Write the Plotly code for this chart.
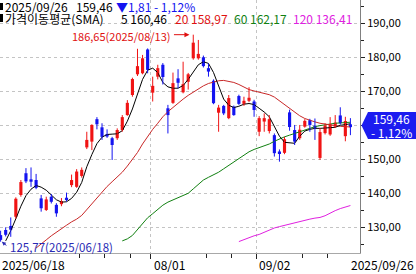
import plotly.graph_objects as go

# ---------------- data ----------------
dates = [
    "2025/06/18", "2025/06/20", "2025/06/23", "2025/06/24", "2025/06/25", "2025/06/26", "2025/06/27", "2025/06/30",
    "2025/07/01", "2025/07/02", "2025/07/03", "2025/07/07", "2025/07/08", "2025/07/09", "2025/07/10", "2025/07/11",
    "2025/07/14", "2025/07/15", "2025/07/16", "2025/07/17", "2025/07/18", "2025/07/21", "2025/07/22", "2025/07/23",
    "2025/07/24", "2025/07/25", "2025/07/28", "2025/07/29", "2025/07/30", "2025/07/31",
    "2025/08/01", "2025/08/04", "2025/08/05", "2025/08/06", "2025/08/07", "2025/08/08", "2025/08/11", "2025/08/12",
    "2025/08/13", "2025/08/14", "2025/08/15", "2025/08/18", "2025/08/19", "2025/08/20", "2025/08/21", "2025/08/22",
    "2025/08/25", "2025/08/26", "2025/08/27", "2025/08/28", "2025/08/29",
    "2025/09/02", "2025/09/03", "2025/09/04", "2025/09/05", "2025/09/08", "2025/09/09", "2025/09/10", "2025/09/11",
    "2025/09/12", "2025/09/15", "2025/09/16", "2025/09/17", "2025/09/18", "2025/09/19", "2025/09/22", "2025/09/23",
    "2025/09/24", "2025/09/25", "2025/09/26",
]

opens = [127.7, 129.2, 130.4, 133.1, 139.5, 145.9, 144.1, 143.9, 138.5, 135.1,
         139.0, 136.6, 136.8, 138.7, 142.4, 141.9, 145.1, 153.5, 155.2, 161.8,
         159.4, 157.4, 156.2, 156.2, 158.6, 163.0, 168.9, 175.0, 175.3, 182.3,
         169.6, 174.3, 177.8, 165.0, 166.6, 173.8, 169.7, 172.8, 179.7, 179.7,
         180.0, 176.8, 173.1, 163.7, 165.7, 162.1, 165.5, 168.6, 166.3, 167.2,
         167.0, 158.1, 161.1, 158.3, 157.1, 152.3, 151.9, 163.8, 158.6, 156.2,
         159.6, 161.5, 159.9, 150.4, 157.7, 157.3, 159.6, 162.9, 156.8, 160.3]
highs = [129.0, 130.0, 132.9, 138.8, 143.9, 147.4, 147.6, 145.7, 139.5, 139.0,
         139.8, 137.1, 138.6, 140.2, 145.5, 147.1, 147.6, 158.1, 160.3, 162.4,
         160.6, 158.8, 156.6, 159.1, 163.0, 167.4, 174.0, 182.5, 180.7, 182.6,
         174.3, 177.8, 178.3, 166.0, 175.5, 176.5, 178.7, 175.4, 186.65, 185.1,
         180.5, 178.2, 173.5, 166.0, 166.0, 168.9, 165.8, 169.0, 168.4, 171.2,
         167.5, 162.7, 163.5, 163.0, 157.6, 152.9, 156.6, 164.6, 160.1, 160.1,
         161.8, 161.9, 162.0, 159.2, 160.6, 162.4, 163.0, 165.3, 162.5, 162.1]
lows = [125.77, 127.3, 127.2, 132.5, 139.0, 143.0, 141.9, 141.2, 134.6, 134.8,
        137.0, 133.1, 136.2, 137.6, 141.8, 141.6, 144.6, 153.0, 152.7, 158.8,
        155.7, 156.3, 149.8, 155.7, 158.1, 162.8, 168.4, 174.5, 175.0, 175.3,
        167.0, 173.5, 172.0, 157.6, 166.3, 170.9, 169.4, 170.5, 179.3, 179.3,
        177.0, 174.3, 166.2, 158.1, 163.0, 161.8, 162.8, 166.0, 165.7, 166.8,
        162.5, 156.8, 158.1, 157.6, 150.8, 149.3, 151.5, 158.4, 154.2, 155.7,
        159.3, 158.1, 155.7, 149.8, 157.3, 156.9, 159.2, 160.2, 155.3, 157.1]
closes = [126.3, 127.8, 129.3, 138.4, 143.3, 143.5, 143.4, 141.6, 135.6, 138.2,
          137.5, 134.1, 137.7, 138.0, 143.9, 146.4, 146.9, 155.7, 160.1, 160.3,
          156.6, 156.7, 154.2, 158.6, 162.4, 166.6, 173.6, 177.4, 179.7, 176.3,
          171.6, 176.8, 174.2, 163.0, 172.4, 172.5, 172.1, 175.0, 184.3, 181.0,
          177.4, 175.8, 166.5, 165.2, 163.5, 168.0, 163.0, 166.3, 167.2, 168.1,
          164.5, 162.1, 162.1, 161.8, 151.8, 151.8, 155.9, 159.5, 155.2, 158.7,
          161.3, 160.1, 159.2, 158.0, 159.9, 160.3, 160.8, 160.6, 161.27, 159.46]

N = None
ma5 = [N, 126.0, 129.0, 132.5, 136.2, 139.3, 141.2, 142.3, 141.8, 140.9,
       139.6, 138.1, 137.4, 137.5, 138.5, 140.3, 143.2, 147.8, 151.4, 154.6,
       156.5, 157.3, 157.4, 157.5, 158.4, 161.2, 164.8, 168.9, 173.5, 176.2,
       176.8, 175.5, 172.6, 171.3, 170.9, 170.9, 171.7, 173.5, 175.7, 177.8,
       178.7, 178.2, 175.5, 171.4, 167.7, 165.9, 165.2, 165.6, 166.2, 166.4,
       166.1, 165.0, 163.9, 162.5, 159.8, 156.8, 155.0, 154.8, 154.7, 156.8,
       158.3, 158.8, 159.1, 159.1, 159.1, 159.3, 159.4, 160.0, 160.2, 160.46]
ma20 = [N, N, N, N, N, N, N, 123.9, 125.0, 126.3,
        127.5, 128.6, 129.6, 130.6, 131.6, 132.4, 133.5, 135.2, 137.0, 138.8,
        140.5, 142.0, 143.4, 144.8, 146.2, 148.0, 150.0, 152.0, 154.5, 156.8,
        158.8, 160.6, 162.5, 164.0, 165.3, 166.5, 167.7, 168.8, 169.8, 170.8,
        171.6, 172.3, 172.8, 173.1, 173.2, 173.0, 172.6, 172.0, 171.2, 170.5,
        170.1, 169.8, 169.5, 169.0, 168.3, 167.2, 166.0, 164.9, 163.7, 162.8,
        162.0, 161.4, 161.0, 160.6, 160.3, 160.1, 159.9, 159.7, 159.6, 159.5]
ma60 = [N] * 24 + [
        126.0, 126.6, 127.6, 129.3, 131.3, 132.8,
        134.0, 135.3, 136.5, 137.4, 138.1, 138.7, 139.3, 140.0, 141.3, 142.6,
        143.9, 144.7, 145.4, 146.2, 147.2, 148.2, 149.2, 150.4, 151.4, 152.2,
        152.9, 153.4, 153.8, 154.5, 155.3, 156.0, 156.6, 157.1, 157.6, 158.1,
        158.6, 159.2, 159.6, 159.9, 160.2, 160.5, 160.6, 160.7, 160.8, 160.9]
ma120 = [N] * 47 + [
        125.8, 126.4, 127.0,
        127.5, 127.9, 128.6, 129.3, 129.8, 130.2, 130.6, 131.0, 131.3, 131.7,
        132.0, 132.4, 132.7, 132.9, 133.4, 134.2, 134.9, 135.5, 135.9, 136.4]

y_ticks = [130, 140, 150, 160, 170, 180, 190]
y_minor = [125, 135, 145, 155, 165, 175, 185, 195]
month_starts = ["2025/08/01", "2025/09/02"]
week_starts = ["2025/07/14", "2025/07/21", "2025/07/28", "2025/08/18", "2025/08/25", "2025/09/15", "2025/09/22"]

header1 = ["2025/09/26", "159,46", "▼1,81", "- 1,12%"]
header2 = ["가격이동평균(SMA)", "5 160,46", "20 158,97", "60 162,17", "120 136,41"]
last_label = ["159,46", "- 1,12%"]
max_label = "186,65(2025/08/13)"
min_label = "125,77(2025/06/18)"

# ---------------- styles ----------------
RED = "#f01414"
BLUE = "#1414f0"
FONT = "Noto Sans CJK KR"
PW, PH = 360.0, 253.0  # plot area in px

def px_x(px):
    return px / PW

def px_y(py):
    return 1 - py / PH

idx = list(range(len(dates)))
pos = {d: i for i, d in enumerate(dates)}

fig = go.Figure()

# MA lines
for vals, col in [(ma120, "#e020e0"), (ma60, "#118011"), (ma20, "#c82828"), (ma5, "#000000")]:
    fig.add_trace(go.Scatter(x=idx, y=vals, mode="lines", line=dict(color=col, width=1),
                             connectgaps=False, hoverinfo="skip"))

# candle bodies
bases, heights, colors = [], [], []
for o, c in zip(opens, closes):
    bases.append(min(o, c))
    heights.append(max(abs(c - o), 0.25))
    colors.append(RED if c >= o else BLUE)
fig.add_trace(go.Bar(x=idx, y=heights, base=bases, width=0.62,
                     marker=dict(color=colors, line=dict(width=0)), hoverinfo="skip"))

# wicks
for up, col in [(True, RED), (False, BLUE)]:
    wx, wy = [], []
    for i, (o, h, l, c) in enumerate(zip(opens, highs, lows, closes)):
        if (c >= o) == up:
            wx += [i, i, None]
            wy += [l, h, None]
    fig.add_trace(go.Scatter(x=wx, y=wy, mode="lines", line=dict(color=col, width=1),
                             hoverinfo="skip"))

x0 = -0.12
x1 = 70.89
grid_off = 0.45

fig.update_layout(
    width=416, height=274,
    margin=dict(l=0, r=56, t=0, b=21),
    paper_bgcolor="white", plot_bgcolor="white",
    showlegend=False,
    font=dict(family=FONT, size=12, color="#000000"),
    xaxis=dict(
        range=[x0, x1], showgrid=True, gridcolor="#c4c4c4", griddash="3px,3px", gridwidth=1,
        tickmode="array", tickvals=[pos[d] - grid_off for d in month_starts],
        ticktext=["" for _ in month_starts],
        ticks="outside", ticklen=5, tickcolor="#222222", tickwidth=1,
        showline=True, linecolor="#a8a8a8", linewidth=1, zeroline=False,
        minor=dict(tickmode="array", tickvals=[pos[d] - grid_off for d in week_starts],
                   ticks="outside", ticklen=4, tickcolor="#222222", showgrid=False),
        fixedrange=True,
    ),
    yaxis=dict(
        range=[122.44, 196.85], side="right", showgrid=True, gridcolor="#c4c4c4",
        griddash="3px,3px", gridwidth=1,
        tickmode="array", tickvals=y_ticks,
        ticktext=["" if v == 160 else f"{v},00" for v in y_ticks],
        ticks="outside", ticklen=4, tickcolor="#222222",
        tickfont=dict(family=FONT, size=11, color="#000000"),
        minor=dict(tickmode="array", tickvals=y_minor, ticks="outside", ticklen=3,
                   tickcolor="#222222", showgrid=False),
        showline=True, linecolor="#808080", linewidth=1, zeroline=False, fixedrange=True,
    ),
)

ann = []
shapes = []

# header markers
shapes.append(dict(type="rect", xref="paper", yref="paper", x0=px_x(0), x1=px_x(3),
                   y0=px_y(10), y1=px_y(3), fillcolor="#000", line=dict(width=0)))
shapes.append(dict(type="rect", xref="paper", yref="paper", x0=px_x(0), x1=px_x(3),
                   y0=px_y(22), y1=px_y(14), fillcolor="#000", line=dict(width=0)))

def txt(text, px, py, color="#000000", size=12, xanchor="left"):
    ann.append(dict(text=text, xref="paper", yref="paper", x=px_x(px), y=px_y(py),
                    xanchor=xanchor, yanchor="middle", showarrow=False,
                    font=dict(family=FONT, size=size, color=color)))

txt(header1[0], 3, 7)
txt(header1[1], 74, 7)
txt(header1[2], 114, 7, BLUE)
txt(header1[3], 152, 7, BLUE)
txt(header2[0], 3, 18.5)
txt(header2[1], 119, 18.5)
txt(header2[2], 173, 18.5, "#e01010")
txt(header2[3], 232, 18.5, "#118011")
txt(header2[4], 291, 18.5, "#e020e0")

# x labels
txt(dates[0], 0, 264)
txt(month_starts[0][5:], 151.5, 264)
txt(month_starts[1][5:], 257, 264)
txt(dates[-1], 416, 264, xanchor="right")

# max / min labels
imax = highs.index(max(highs))
imin = lows.index(min(lows))
ann.append(dict(text=max_label, x=imax - 1.0, y=max(highs), xref="x", yref="y",
                xanchor="right", yanchor="middle", showarrow=False, xshift=-16, yshift=-1,
                font=dict(family=FONT, size=11, color="#e01010")))
ann.append(dict(text="", x=imax - 0.75, y=max(highs), xref="x", yref="y",
                showarrow=True, ax=-17, ay=0, arrowhead=2, arrowsize=1, arrowwidth=1,
                arrowcolor="#e01010"))
ann.append(dict(text=min_label, x=imin, y=min(lows), xref="x", yref="y",
                xanchor="left", yanchor="middle", showarrow=False, xshift=7, yshift=-5,
                font=dict(family=FONT, size=11.5, color="#2a2ab4")))
ann.append(dict(text="", x=imin + 0.25, y=min(lows), xref="x", yref="y",
                showarrow=True, ax=6, ay=5, arrowhead=2, arrowsize=0.8, arrowwidth=1,
                arrowcolor="#2a2ab4"))

# last price box
shapes.append(dict(type="path", xref="paper", yref="paper", layer="above",
                   path=f"M {px_x(361.5)} {px_y(125.5)} L {px_x(368)} {px_y(112)} L {px_x(416)} {px_y(112)} "
                        f"L {px_x(416)} {px_y(139)} L {px_x(368)} {px_y(139)} Z",
                   fillcolor="#1c1cf0", line=dict(width=0)))
txt(last_label[0], 392, 119, "#ffffff", xanchor="center")
txt(last_label[1], 392, 132, "#ffffff", xanchor="center")

fig.update_layout(annotations=ann, shapes=shapes)

fig.write_html("out.html")
